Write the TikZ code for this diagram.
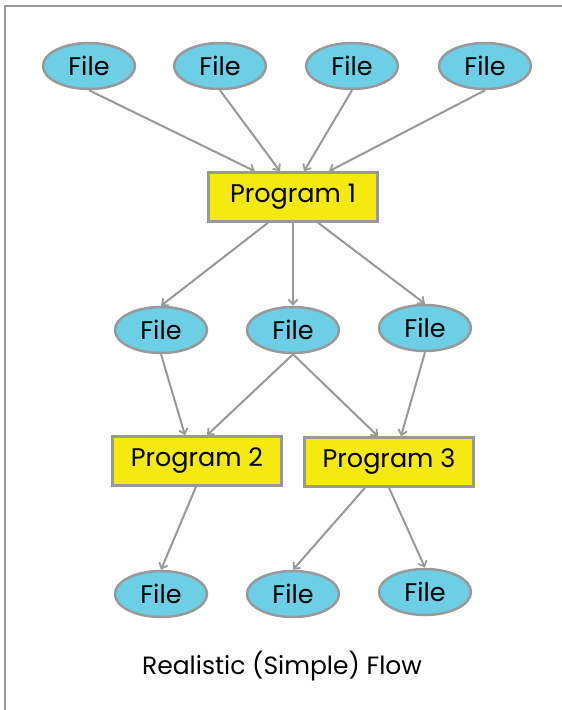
\documentclass[tikz,border=0pt]{standalone}
\usepackage{fontspec}
\setmainfont{Poppins}
\usetikzlibrary{arrows.meta,shapes.geometric}
\definecolor{fileblue}{HTML}{6DCFE6}
\definecolor{progyellow}{HTML}{F5E90F}
\definecolor{edgegray}{HTML}{999999}
\tikzset{
  filenode/.style={ellipse, draw=edgegray, line width=2.5pt, fill=fileblue,
    minimum width=92pt, minimum height=46pt, inner sep=0pt,
    font=\fontsize{25.5}{27}\selectfont},
  prognode/.style={rectangle, draw=edgegray, line width=2.5pt, fill=progyellow,
    minimum width=169pt, minimum height=49pt, inner sep=0pt,
    font=\fontsize{25.5}{27}\selectfont},
  conn/.style={draw=edgegray, line width=2pt,
    -{Straight Barb[length=5pt,width=9pt,line width=1.8pt]}},
}
\begin{document}
\begin{tikzpicture}[x=1pt,y=-1pt]
\useasboundingbox (0,0) rectangle (562,710);
\draw[edgegray, line width=2.8pt] (5,730) -- (5,6) -- (580,6);
% top files
\node[filenode] (f1) at (89,66) {File};
\node[filenode] (f2) at (220,66) {File};
\node[filenode] (f3) at (352,66) {File};
\node[filenode] (f4) at (485,66) {File};
\node[prognode] (p1) at (293,197) {Program 1};
% middle files
\node[filenode] (m1) at (161,330) {File};
\node[filenode] (m2) at (293,330) {File};
\node[filenode] (m3) at (425,328) {File};
\node[prognode] (p2) at (197,461) {Program 2};
\node[prognode] (p3) at (389,462) {Program 3};
% bottom files
\node[filenode] (b1) at (161,594) {File};
\node[filenode] (b2) at (293,594) {File};
\node[filenode] (b3) at (425,592) {File};
\node[font=\fontsize{25}{27}\selectfont] (cap) at (282,666) {Realistic (Simple) Flow};
% connectors
\draw[conn] (f1.south) -- ([xshift=-38pt]p1.north);
\draw[conn] (f2.south) -- ([xshift=-13pt]p1.north);
\draw[conn] (f3.south) -- ([xshift=11pt]p1.north);
\draw[conn] (f4.south) -- ([xshift=36pt]p1.north);
\draw[conn] ([xshift=-25pt]p1.south) -- (m1.north);
\draw[conn] (p1.south) -- (m2.north);
\draw[conn] ([xshift=25pt]p1.south) -- (m3.north);
\draw[conn] (m1.south) -- ([xshift=-12pt]p2.north);
\draw[conn] (m2.south) -- ([xshift=10pt]p2.north);
\draw[conn] (m2.south) -- ([xshift=-11pt]p3.north);
\draw[conn] (m3.south) -- ([xshift=12pt]p3.north);
\draw[conn] ([xshift=-1pt]p2.south) -- (b1.north);
\draw[conn] ([xshift=-24pt]p3.south) -- (b2.north);
\draw[conn] ([xshift=0pt]p3.south) -- (b3.north);
\end{tikzpicture}
\end{document}
